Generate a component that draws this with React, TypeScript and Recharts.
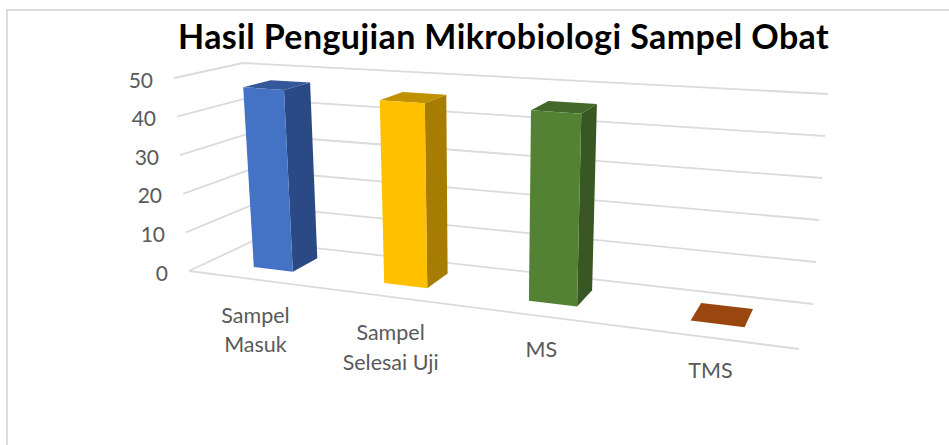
import React from "react";
import { BarChart, Bar, XAxis, YAxis, CartesianGrid } from "recharts";

const categories = ["Sampel Masuk", "Sampel Selesai Uji", "MS", "TMS"];
const sampleCounts = [47, 46, 46, 0];
const yTicks = [0, 10, 20, 30, 40, 50];
const frontColors = ["#4472C4", "#FFC000", "#548235", "#9A470F"];
const sideColors = ["#2B4A85", "#A67D00", "#385723", "#6B310A"];
const topColors = ["#34579A", "#BF9000", "#43682A", "#9A470F"];
const labelLines = [["Sampel", "Masuk"], ["Sampel", "Selesai Uji"], ["MS"], ["TMS"]];

const chartData = categories.map((name, i) => ({ name, value: sampleCounts[i] }));

const W = 949, H = 445;
const M = { top: 100, right: 100, bottom: 99, left: 99 };
const PL = 100;
const PW = W - PL - M.right;
const PH = H - M.top - 100;
const MAXV = 50;

type P = [number, number];
function quad(a: P, b: P, c: P, d: P) {
  // a=(0,0) b=(1,0) c=(1,1) d=(0,1)
  const dx1 = b[0] - c[0], dx2 = d[0] - c[0], sx = a[0] - b[0] + c[0] - d[0];
  const dy1 = b[1] - c[1], dy2 = d[1] - c[1], sy = a[1] - b[1] + c[1] - d[1];
  const den = dx1 * dy2 - dx2 * dy1;
  const g = (sx * dy2 - dx2 * sy) / den;
  const h = (dx1 * sy - sx * dy1) / den;
  const A = b[0] - a[0] + g * b[0], B = d[0] - a[0] + h * d[0], C = a[0];
  const D = b[1] - a[1] + g * b[1], E = d[1] - a[1] + h * d[1], F = a[1];
  return (u: number, v: number): P => {
    const w = g * u + h * v + 1;
    return [(A * u + B * v + C) / w, (D * u + E * v + F) / w];
  };
}
const floor = quad([189, 271], [799, 349], [813, 304], [253, 241]);
const X0 = 189, X1 = 813;
const UOFF = 0.005;
// rise of the full value scale at the four floor corners
const riseFront: [P, P] = [[-15, -193], [16, -228]];
const riseBack: [P, P] = [[-10, -178], [15, -210]];
function project(u: number, d: number, v: number): P {
  const f = floor(u, d);
  const s = (f[0] - X0 - 64 * d) / (X1 - 14 * (1 - d) - X0 - 64 * d);
  const t = v / MAXV;
  const lerp = (a: number, b: number, k: number) => a + (b - a) * k;
  const rx = lerp(lerp(riseFront[0][0], riseFront[1][0], s), lerp(riseBack[0][0], riseBack[1][0], s), d);
  const ry = lerp(lerp(riseFront[0][1], riseFront[1][1], s), lerp(riseBack[0][1], riseBack[1][1], s), d);
  return [f[0] + rx * t, f[1] + ry * t];
}
const pts = (list: P[]) => list.map((p) => `${p[0].toFixed(1)},${p[1].toFixed(1)}`).join(" ");

const D0 = 0.3, D1 = 0.72;

function Bar3D(props: any) {
  const { x, y, width, index } = props;
  const u0 = (x - PL) / PW + UOFF, u1 = (x + width - PL) / PW + UOFF;
  const v = ((M.top + PH - y) / PH) * MAXV;
  const fbl = project(u0, D0, 0), fbr = project(u1, D0, 0), bbr = project(u1, D1, 0);
  const ftl = project(u0, D0, v), ftr = project(u1, D0, v), btr = project(u1, D1, v), btl = project(u0, D1, v);
  return (
    <g>
      {v > 0 && <polygon points={pts([fbr, bbr, btr, ftr])} fill={sideColors[index]} />}
      <polygon points={pts([ftl, ftr, btr, btl])} fill={topColors[index]} />
      {v > 0 && <polygon points={pts([fbl, fbr, ftr, ftl])} fill={frontColors[index]} />}
    </g>
  );
}

function gridLine(props: any) {
  const v = ((M.top + PH - props.y1) / PH) * MAXV;
  const line = [project(0, 0, v), project(0, 1, v), project(1, 1, v)];
  return (
    <g key={`g-${props.y1}`}>
      <polyline points={pts(line)} fill="none" stroke="#DBDBDB" strokeWidth={1.8} />
      {Math.abs(v) < 0.01 && (
        <polyline points={pts([project(0, 0, 0), project(1, 0, 0)])} fill="none" stroke="#DBDBDB" strokeWidth={1.8} />
      )}
    </g>
  );
}

function YTick(props: any) {
  const v = props.payload.value as number;
  const p = project(0, 0, v);
  return (
    <text x={p[0] - 21} y={p[1] + 1} textAnchor="end" dominantBaseline="central" fontFamily="Lato" fontSize={21} fill="#595959">
      {v}
    </text>
  );
}

function XTick(props: any) {
  const i = props.index as number;
  const lines = labelLines[i];
  const f = project((i + 0.5) / 4, 0, 0);
  const oneLine = lines.length === 1;
  const cx = f[0] + 4;
  return (
    <text x={cx} textAnchor="middle" fontFamily="Lato" fontSize={21.5} fill="#595959">
      {lines.map((t, k) => (
        <tspan key={k} x={cx} y={f[1] + (oneLine ? 41 : 44) + k * 29.5}>
          {t}
        </tspan>
      ))}
    </text>
  );
}

export default function App() {
  return (
    <div style={{ position: "absolute", left: 0, top: 0, width: W, height: H, background: "#fff", overflow: "hidden" }}>
      <div style={{ position: "absolute", left: 6, top: 9, right: 0, bottom: 0, borderLeft: "2px solid #DCDCDC", borderTop: "2px solid #DCDCDC" }} />
      <div
        style={{
          position: "absolute", left: 178, top: 14, whiteSpace: "nowrap",
          fontFamily: "Lato", fontWeight: 700, fontSize: 34, letterSpacing: 0.4, lineHeight: "44px", color: "#000",
        }}
      >
        Hasil Pengujian Mikrobiologi Sampel Obat
      </div>
      <div style={{ position: "absolute", left: 0, top: 0 }}>
        <BarChart width={W} height={H} data={chartData} margin={M} barCategoryGap="34.5%">
          <CartesianGrid vertical={false} horizontal={gridLine} />
          <XAxis dataKey="name" height={1} axisLine={false} tickLine={false} interval={0} tick={XTick} />
          <YAxis domain={[0, MAXV]} ticks={yTicks} width={1} axisLine={false} tickLine={false} tick={YTick} />
          <Bar dataKey="value" isAnimationActive={false} shape={Bar3D} />
        </BarChart>
      </div>
    </div>
  );
}
